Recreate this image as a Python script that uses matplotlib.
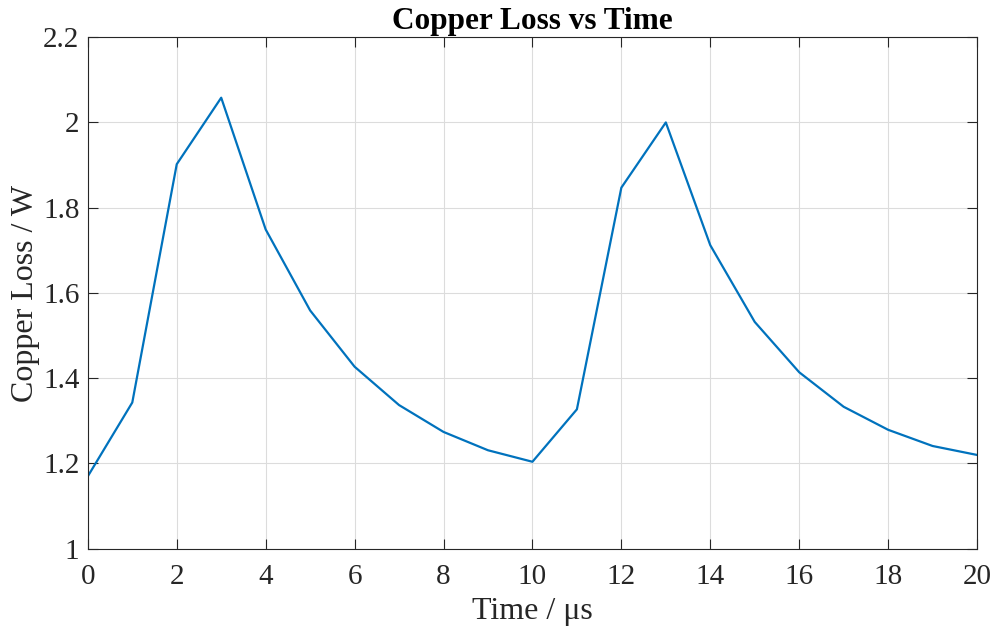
import numpy as np
import matplotlib.pyplot as plt

time_us = [0, 1, 2, 3, 4, 5, 6, 7, 8, 9, 10, 11, 12, 13, 14, 15, 16, 17, 18, 19, 20]
copper_loss = [1.170, 1.343, 1.902, 2.058, 1.749, 1.559, 1.427, 1.337, 1.274, 1.231, 1.204,
               1.327, 1.847, 2.000, 1.712, 1.532, 1.414, 1.333, 1.279, 1.241, 1.220]
x_ticks = [0, 2, 4, 6, 8, 10, 12, 14, 16, 18, 20]
y_ticks = [1, 1.2, 1.4, 1.6, 1.8, 2, 2.2]
y_tick_labels = ["1", "1.2", "1.4", "1.6", "1.8", "2", "2.2"]

plt.rc("font", family="Liberation Serif")

fig = plt.figure(figsize=(9.98, 6.3), dpi=100)
ax = fig.add_axes([0.088, 0.129, 0.891, 0.812])

ax.plot(time_us, copper_loss, color="#0072BD", linewidth=1.6)

ax.set_xlim(0, 20)
ax.set_ylim(1, 2.2)
ax.set_xticks(x_ticks)
ax.set_xticklabels([str(t) for t in x_ticks])
ax.set_yticks(y_ticks)
ax.set_yticklabels(y_tick_labels)
ax.tick_params(direction="in", top=True, right=True, labelsize=21, length=7,
               width=0.8, colors="#262626")
ax.tick_params(axis="x", pad=11)
ax.tick_params(axis="y", pad=6)
ax.grid(True, color="#dcdcdc", linewidth=0.8)
ax.set_axisbelow(True)
for s in ax.spines.values():
    s.set_color("#262626")
    s.set_linewidth(0.8)

ax.set_xlabel("Time / μs", fontsize=23, color="#262626", labelpad=5)
ax.set_ylabel("Copper Loss / W", fontsize=23, color="#262626", labelpad=2)
ax.set_title("Copper Loss vs Time", fontsize=22.5, fontweight="bold", pad=6)

fig.savefig("out.png", dpi=100)
